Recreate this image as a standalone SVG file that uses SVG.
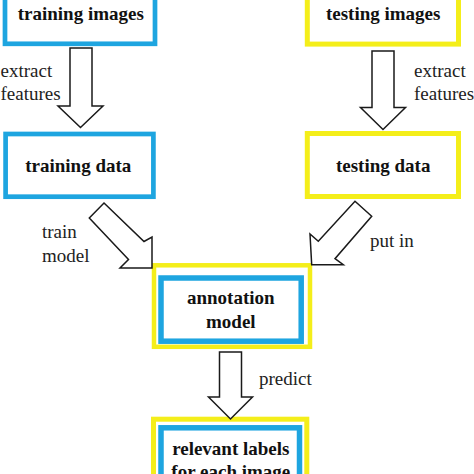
<svg xmlns="http://www.w3.org/2000/svg" width="474" height="474" viewBox="0 0 474 474">
<style>
.bg{fill:#ffffff}
.blue{fill:#ffffff;stroke:#1ea5e0;stroke-width:4.7}
.yellow{fill:#ffffff;stroke:#f4ee1a;stroke-width:5}
.inner{fill:#ffffff;stroke:#1ea5e0;stroke-width:5.5}
.node{font-family:"Liberation Serif","Times New Roman",serif;font-weight:bold;font-size:19px;fill:#111111;text-anchor:middle}
.lbl{font-family:"Liberation Serif","Times New Roman",serif;font-size:19px;fill:#222222}
.arrow{fill:#ffffff;stroke:#1a1a1a;stroke-width:1.5;stroke-linejoin:miter}
</style>
<rect class="bg" x="0" y="0" width="474" height="474"/>
<g id="training-images">
<rect class="blue" x="5" y="-20" width="150" height="63.8"/>
<text class="node" x="80.8" y="20">training images</text>
</g>
<g id="testing-images">
<rect class="yellow" x="307.3" y="-20" width="151.2" height="64.1"/>
<text class="node" x="383.2" y="19.5">testing images</text>
</g>
<g id="training-data">
<rect class="blue" x="5.6" y="134" width="147.8" height="62.7"/>
<text class="node" x="78.3" y="171.7">training data</text>
</g>
<g id="testing-data">
<rect class="yellow" x="307.3" y="133.5" width="151.2" height="63"/>
<text class="node" x="383.2" y="171.7">testing data</text>
</g>
<g id="annotation-model">
<rect class="yellow" x="154" y="265.3" width="156" height="81.5" style="stroke-width:4.5"/>
<rect class="inner" x="161" y="278" width="140.2" height="63.2"/>
<text class="node" x="230.8" y="304.3">annotation</text>
<text class="node" x="230.8" y="327.7">model</text>
</g>
<g id="relevant-labels">
<rect class="yellow" x="153.5" y="419.2" width="153.3" height="80"/>
<rect class="inner" x="161" y="427.8" width="138.5" height="70"/>
<text class="node" x="230.8" y="455">relevant labels</text>
<text class="node" x="230.8" y="478">for each image</text>
</g>
<g id="connectors">
<polygon class="arrow" points="70,48 92,48 92,106 103,106 80.5,127.5 58,106 70,106"/>
<polygon class="arrow" points="372,51 394,51 394,107.5 405.5,107.5 383,129.5 360.5,107.5 372,107.5"/>
<polygon class="arrow" points="104,203 144,241.5 152,237 152,268 120,268 128.5,259.5 89.3,218"/>
<polygon class="arrow" points="355,201.3 371.7,216.3 335,258.7 343.3,264.7 311.7,264.7 310,234 318.3,241.3"/>
<polygon class="arrow" points="219.5,352 241.5,352 241.5,397 252.5,397 230.5,419 208.5,397 219.5,397"/>
<text class="lbl" x="0.5" y="77">extract</text>
<text class="lbl" x="0.5" y="100">features</text>
<text class="lbl" x="414" y="77">extract</text>
<text class="lbl" x="414" y="100">features</text>
<text class="lbl" x="42" y="238">train</text>
<text class="lbl" x="42" y="262">model</text>
<text class="lbl" x="370" y="247">put in</text>
<text class="lbl" x="259" y="385">predict</text>
</g>
</svg>
